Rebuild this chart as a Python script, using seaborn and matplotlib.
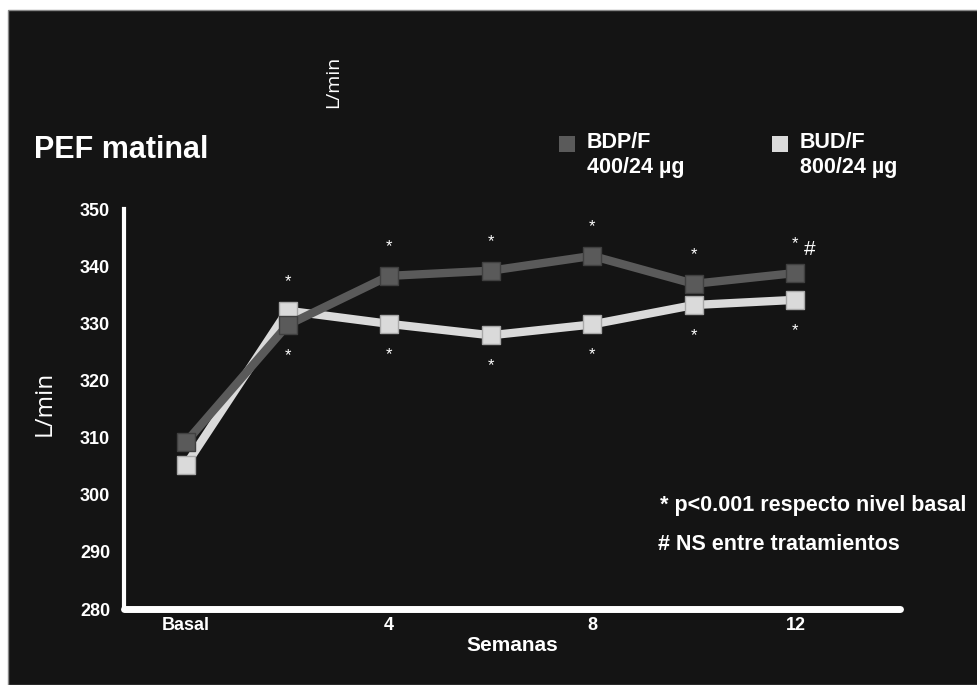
import numpy as np
import pandas as pd
import seaborn as sns
import matplotlib.pyplot as plt
from matplotlib.patches import Rectangle

# data
weeks = [0, 2, 4, 6, 8, 10, 12]
bdp_f = [309.2, 329.7, 338.3, 339.2, 341.8, 336.9, 338.8]
bud_f = [305.2, 332.2, 329.9, 327.9, 329.8, 333.2, 334.1]
series_names = ["BDP/F\n400/24 µg", "BUD/F\n800/24 µg"]
tick_weeks = [0, 4, 8, 12]
tick_labels = ["Basal", "4", "8", "12"]
y_ticks = [280, 290, 300, 310, 320, 330, 340, 350]

BG = "#141414"
DARK = "#5a5a5a"
LIGHT = "#dadada"

sns.set_theme(style="dark")
plt.rcParams["font.family"] = ["Liberation Sans", "DejaVu Sans"]

df = pd.DataFrame({
    "week": weeks * 2,
    "pef": bdp_f + bud_f,
    "grupo": [series_names[0]] * len(weeks) + [series_names[1]] * len(weeks),
})

fig = plt.figure(figsize=(9.77, 6.85), dpi=100, facecolor="white")
bg = fig.add_axes([0, 0, 1, 1], zorder=0)
bg.set_axis_off()
bg.add_patch(Rectangle((8 / 977, 0), 1, 1 - 10 / 685, transform=bg.transAxes,
                       facecolor=BG, edgecolor="#888888", lw=1))

ax = fig.add_axes([124 / 977, 1 - 609 / 685, (900 - 124) / 977, (609 - 209) / 685], zorder=2)
ax.set_facecolor("none")

sns.lineplot(data=df[df.grupo == series_names[1]], x="week", y="pef", color=LIGHT,
             lw=6, marker="s", markersize=12.5, markeredgecolor="#a8a8a8",
             markeredgewidth=1, ax=ax, zorder=3)
sns.lineplot(data=df[df.grupo == series_names[0]], x="week", y="pef", color=DARK,
             lw=6, marker="s", markersize=12.5, markeredgecolor="#404040",
             markeredgewidth=1, ax=ax, zorder=4)

ax.set_xlim(-1.22, 14.06)
ax.set_ylim(280, 350)
ax.set_xticks(tick_weeks)
ax.set_xticklabels(tick_labels)
ax.set_yticks(y_ticks)
ax.grid(False)
for s in ["top", "right"]:
    ax.spines[s].set_visible(False)
ax.spines["left"].set_color("white")
ax.spines["left"].set_linewidth(3)
ax.spines["bottom"].set_color("white")
ax.spines["bottom"].set_linewidth(5)
ax.spines["bottom"].set_capstyle("round")
ax.tick_params(axis="both", length=0, colors="white", labelsize=13)
ax.tick_params(axis="y", pad=10)
ax.tick_params(axis="x", pad=6)
for lab in ax.get_xticklabels() + ax.get_yticklabels():
    lab.set_fontweight("bold")
ax.set_xlabel("Semanas", color="white", fontsize=15, fontweight="bold", labelpad=1)
ax.set_ylabel("")

# significance stars above/below each post-basal point
for w, a, b in zip(weeks[1:], bdp_f[1:], bud_f[1:]):
    ax.annotate("*", (w, max(a, b)), xytext=(0, 21), textcoords="offset points",
                ha="center", va="center", color="white", fontsize=12)
    ax.annotate("*", (w, min(a, b)), xytext=(0, -22), textcoords="offset points",
                ha="center", va="center", color="white", fontsize=12)
ax.annotate("#", (weeks[-1], bdp_f[-1]), xytext=(10, 17), textcoords="offset points",
            ha="center", va="center", color="white", fontsize=15)

# texts
bg.text(34 / 977, 1 - 150 / 685, "PEF matinal", color="white", fontsize=22,
        fontweight="bold", va="center", ha="left")
bg.text(45 / 977, 1 - 403 / 685, "L/min", color="white", fontsize=17.5,
        rotation=90, va="center", ha="center", family=["Open Sans", "DejaVu Sans"])
bg.text(333 / 977, 1 - 82 / 685, "L/min", color="white", fontsize=14,
        rotation=90, va="center", ha="center", family=["Open Sans", "DejaVu Sans"])

# legend
for x0, name, col in [(567, series_names[0], DARK), (780, series_names[1], LIGHT)]:
    bg.add_patch(Rectangle(((x0 - 8) / 977, 1 - 152 / 685), 16 / 977, 16 / 685,
                           transform=bg.transAxes, facecolor=col, edgecolor="none"))
    bg.text((x0 + 20) / 977, 1 - 155 / 685, name, color="white", fontsize=15.5,
            fontweight="bold", va="center", ha="left", linespacing=1.2)

bg.text(660 / 977, 1 - 505 / 685, "* p<0.001 respecto nivel basal", color="white",
        fontsize=15.5, fontweight="bold", va="center", ha="left")
bg.text(658 / 977, 1 - 545 / 685, "# NS entre tratamientos", color="white",
        fontsize=15.5, fontweight="bold", va="center", ha="left")

fig.savefig("out.png", dpi=100, facecolor=fig.get_facecolor())
